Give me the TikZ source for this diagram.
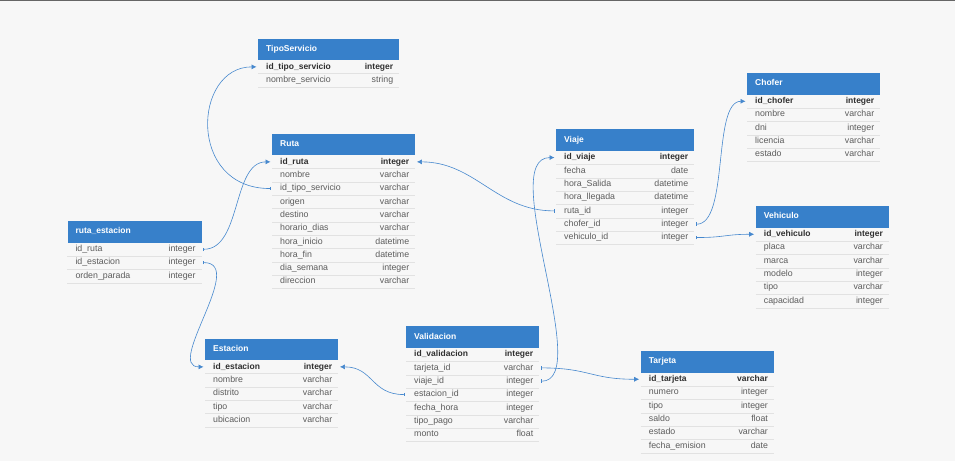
\documentclass[tikz,border=0pt]{standalone}
\usepackage{fontspec}
\setmainfont{Liberation Sans}
\usepackage{xcolor}
\usepackage{tikz}
\usetikzlibrary{arrows.meta, positioning, calc}
\definecolor{hdrblue}{RGB}{55,128,202}
\definecolor{relblue}{RGB}{70,136,206}
\definecolor{bggray}{RGB}{247,247,247}
\definecolor{fldgray}{RGB}{92,92,92}
\definecolor{pkgray}{RGB}{48,48,48}
\definecolor{rulegray}{RGB}{226,226,226}
\tikzstyle{hdr}=[fill=hdrblue, minimum height=21.7pt, inner sep=0, anchor=north west]
\tikzstyle{ttl}=[text=white, font=\fontsize{8.5}{10}\selectfont\bfseries, inner sep=1pt, text height=6.3pt, text depth=2pt]
\tikzstyle{rowbox}=[minimum height=13.33pt, inner sep=0, anchor=north west]
\tikzstyle{rowline}=[draw=rulegray, line width=0.5pt]
\tikzstyle{pk}=[text=pkgray, font=\fontsize{8.5}{10}\selectfont\bfseries, inner sep=1pt, text height=6.3pt, text depth=2pt]
\tikzstyle{fld}=[text=fldgray, font=\fontsize{8.8}{10}\selectfont, inner sep=1pt, text height=6.3pt, text depth=2pt]
\tikzstyle{rel}=[draw=relblue, line width=0.6pt, {Bar[width=3.5pt,line width=0.9pt]}-{Latex[length=5pt,width=5pt]}, shorten >=1.5pt, shorten <=1.5pt]
% #1 name, #2 x, #3 y, #4 width, #5 title, #6 rows style/field/type
\newcommand{\ERtable}[6]{\node[hdr, minimum width=#4pt] (#1) at (#2,#3) {};
\node[ttl, anchor=west] at ([xshift=7pt]#1.west) {#5};
\foreach \st/\fd/\ty [count=\i] in {#6}{
\node[rowbox, minimum width=#4pt] (#1-\i) at (#2,{#3+21.7+(\i-1)*13.33}) {};
\draw[rowline] (#1-\i.south west) -- (#1-\i.south east);
\node[\st, anchor=west] at ([xshift=7pt]#1-\i.west) {\fd};
\node[\st, anchor=east] at ([xshift=-5pt]#1-\i.east) {\ty};}}

\begin{document}
\begin{tikzpicture}[x=1pt, y=-1pt]
\fill[bggray] (0,0) rectangle (955,461);
\useasboundingbox (0,0) rectangle (955,461);
\draw[line width=1.2pt, black!60] (0,0.6) -- (955,0.6);
% tables
\ERtable{tipo}{258}{38.3}{141}{TipoServicio}{pk/id\_tipo\_servicio/integer, fld/nombre\_servicio/string}
\ERtable{ruta}{272}{133.3}{143}{Ruta}{pk/id\_ruta/integer, fld/nombre/varchar, fld/id\_tipo\_servicio/varchar, fld/origen/varchar, fld/destino/varchar, fld/horario\_dias/varchar, fld/hora\_inicio/datetime, fld/hora\_fin/datetime, fld/dia\_semana/integer, fld/direccion/varchar}
\ERtable{viaje}{556}{129}{138}{Viaje}{pk/id\_viaje/integer, fld/fecha/date, fld/hora\_Salida/datetime, fld/hora\_llegada/datetime, fld/ruta\_id/integer, fld/chofer\_id/integer, fld/vehiculo\_id/integer}
\ERtable{chofer}{747}{72.7}{133}{Chofer}{pk/id\_chofer/integer, fld/nombre/varchar, fld/dni/integer, fld/licencia/varchar, fld/estado/varchar}
\ERtable{vehiculo}{755.7}{205.7}{133}{Vehiculo}{pk/id\_vehiculo/integer, fld/placa/varchar, fld/marca/varchar, fld/modelo/integer, fld/tipo/varchar, fld/capacidad/integer}
\ERtable{rutaest}{67.3}{220.7}{134}{ruta\_estacion}{fld/id\_ruta/integer, fld/id\_estacion/integer, fld/orden\_parada/integer}
\ERtable{estacion}{205}{338.3}{133}{Estacion}{pk/id\_estacion/integer, fld/nombre/varchar, fld/distrito/varchar, fld/tipo/varchar, fld/ubicacion/varchar}
\ERtable{valid}{406}{326}{133}{Validacion}{pk/id\_validacion/integer, fld/tarjeta\_id/varchar, fld/viaje\_id/integer, fld/estacion\_id/integer, fld/fecha\_hora/integer, fld/tipo\_pago/varchar, fld/monto/float}
\ERtable{tarjeta}{640.7}{350.7}{133}{Tarjeta}{pk/id\_tarjeta/varchar, fld/numero/integer, fld/tipo/integer, fld/saldo/float, fld/estado/varchar, fld/fecha\_emision/date}
% relations
\draw[rel] (ruta-3.west) .. controls +(-85,0) and +(-65,0) .. (tipo-1.west);
\draw[rel] (rutaest-1.east) .. controls +(40,0) and +(-40,0) .. (ruta-1.west);
\draw[rel] (rutaest-2.east) .. controls +(45,0) and +(-40,0) .. (estacion-1.west);
\draw[rel] (valid-4.west) .. controls +(-35,0) and +(35,0) .. (estacion-1.east);
\draw[rel] (viaje-5.west) .. controls +(-60,0) and +(60,0) .. (ruta-1.east);
\draw[rel] (valid-3.east) .. controls +(55,0) and +(-60,0) .. (viaje-1.west);
\draw[rel] (viaje-6.east) .. controls +(35,0) and +(-35,0) .. (chofer-1.west);
\draw[rel] (viaje-7.east) .. controls +(30,0) and +(-30,0) .. (vehiculo-1.west);
\draw[rel] (valid-2.east) .. controls +(50,0) and +(-50,0) .. (tarjeta-1.west);
\end{tikzpicture}
\end{document}
